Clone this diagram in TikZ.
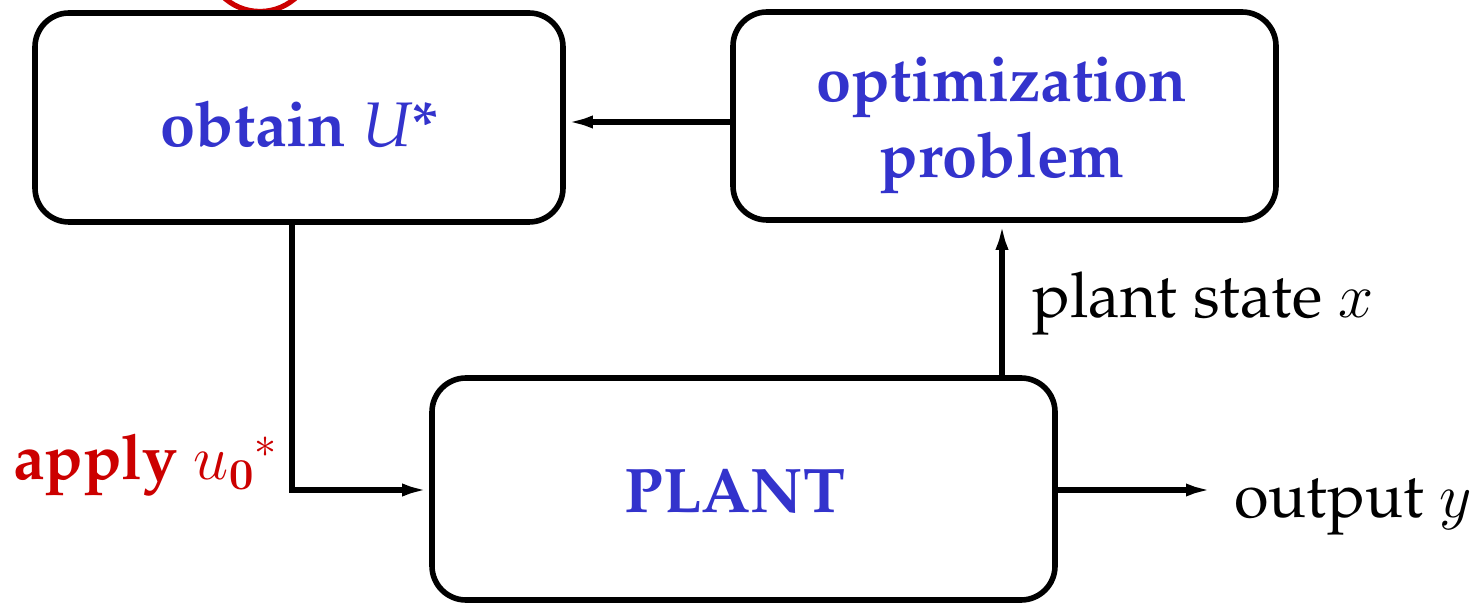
\RequirePackage{fix-cm}
\documentclass[tikz,border=0pt]{standalone}
\usepackage[T1]{fontenc}
\renewcommand{\rmdefault}{ppl}
\usetikzlibrary{arrows.meta}
\definecolor{tblue}{RGB}{51,51,204}
\definecolor{tred}{RGB}{204,0,0}
\begin{document}
\begin{tikzpicture}[x=0.5pt,y=-0.5pt,
  box/.style={draw,line width=2.8pt,rounded corners=17pt,inner sep=0pt},
  lbl/.style={inner sep=0pt,font=\fontsize{31.5}{37}\selectfont},
  arr/.style={line width=2.6pt,-{Latex[length=13.5pt,width=6.5pt]}}]
\useasboundingbox (0,0) rectangle (1482,603);
% red mark (cut by the top edge)
\draw[tred,line width=2.6pt] (260,-42) circle (26.75pt);
% boxes
\node[box,minimum width=264pt,minimum height=104.5pt] (obtain) at (299,117.5) {};
\node[box,minimum width=271.5pt,minimum height=104pt] (optim) at (1004.5,116) {};
\node[box,minimum width=311.5pt,minimum height=111pt] (plant) at (743.5,489) {};
% texts
\node[lbl,anchor=base,text=tblue] (tobtain) at (300,147) {\textbf{obtain {\mdseries\itshape U}*}};
\node[lbl,anchor=base,text=tblue] (topt1) at (1002,102) {\textbf{optimization}};
\node[lbl,anchor=base,text=tblue] (topt2) at (1002,178) {\textbf{problem}};
\node[lbl,anchor=base,text=tblue] (tplant) at (735,513) {\textbf{PLANT}};
\node[lbl,anchor=base west,text=tred] (tapply) at (13,480) {\textbf{apply} ${u_{\mathbf{0}}}^{*}$};
\node[lbl,anchor=base west] (tstate) at (1032,318) {plant state $x$};
\node[lbl,anchor=base west] (tout) at (1234,517) {output $y$};
% helper coordinates
\coordinate (yA) at (0,122);
\coordinate (c1) at (292,490);
\coordinate (c2) at (1002,0);
\coordinate (out) at (1213,490);
% connectors
\draw[arr] (optim.west |- yA) -- (obtain.east |- yA);
\draw[arr] (obtain.south -| c1) |- (plant.west |- c1);
\draw[arr] (plant.north -| c2) -- (optim.south -| c2);
\draw[arr] (plant.east |- out) -- (out);
\end{tikzpicture}
\end{document}
